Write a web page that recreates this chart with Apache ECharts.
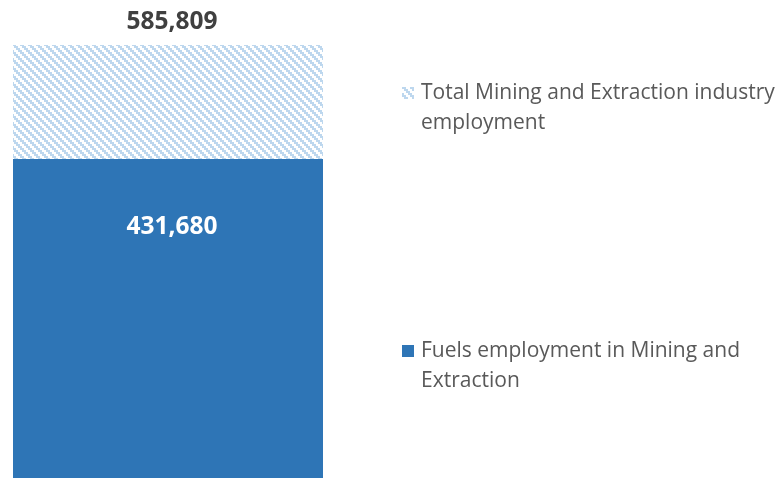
<!DOCTYPE html>
<html>
<head>
<meta charset="utf-8">
<script src="https://cdn.jsdelivr.net/npm/echarts@6/dist/echarts.min.js"></script>
<style>
html,body{margin:0;padding:0;background:#fff;}
#chart{width:777px;height:478px;}
</style>
</head>
<body>
<div id="chart"></div>
<script>
const categories = ['Mining and Extraction'];
const fuelsEmployment = [431680];
const totalEmployment = [585809];
const seriesNames = ['Fuels employment in Mining and\nExtraction', 'Total Mining and Extraction industry\nemployment'];

const remainder = totalEmployment.map((t, i) => t - fuelsEmployment[i]);

// hatch pattern (wide downward diagonal)
const pc = document.createElement('canvas');
pc.width = 8; pc.height = 8;
const pctx = pc.getContext('2d');
pctx.fillStyle = '#ffffff';
pctx.fillRect(0, 0, 8, 8);
pctx.fillStyle = '#BDD7EE';
for (let y = 0; y < 8; y++) {
  for (let x = 0; x < 8; x++) {
    const v = ((Math.floor(x / 2) - Math.floor(y / 2)) % 4 + 4) % 4;
    if (v < 2) pctx.fillRect(x, y, 1, 1);
  }
}
const hatch = { image: pc, repeat: 'repeat' };

const font = '"Open Sans"';
const chart = echarts.init(document.getElementById('chart'), null, { renderer: 'canvas' });
const legendText = {
  color: '#595959', fontFamily: font, fontSize: 21, lineHeight: 30, padding: [0, 0, 0, 2]
};
chart.setOption({
  animation: false,
  grid: { left: 13, width: 310, top: 45, bottom: 0, containLabel: false },
  xAxis: { type: 'category', data: categories, show: false },
  yAxis: { type: 'value', min: 0, max: totalEmployment[0], show: false, splitLine: { show: false } },
  legend: [
    {
      data: [{ name: seriesNames[1], icon: 'rect' }],
      left: 402, top: 48, padding: 0, itemWidth: 12, itemHeight: 12, itemGap: 0,
      textStyle: legendText, selectedMode: false,
      formatter: n => '\n' + n
    },
    {
      data: [{ name: seriesNames[0], icon: 'rect' }],
      left: 402, top: 306, padding: 0, itemWidth: 12, itemHeight: 12, itemGap: 0,
      textStyle: legendText, selectedMode: false,
      formatter: n => '\n' + n
    }
  ],
  series: [
    {
      name: seriesNames[0], type: 'bar', stack: 'a', barWidth: '100%',
      data: fuelsEmployment,
      itemStyle: { color: '#2E75B6' },
      label: {
        show: true, position: 'insideTop', distance: 56, offset: [4, 0],
        color: '#ffffff', fontFamily: font, fontWeight: 'bold', fontSize: 24.5,
        formatter: p => p.value.toLocaleString('en-US')
      }
    },
    {
      name: seriesNames[1], type: 'bar', stack: 'a', barWidth: '100%',
      data: remainder,
      itemStyle: { color: hatch },
      label: {
        show: true, position: 'top', distance: 10, offset: [4, 0],
        color: '#404040', fontFamily: font, fontWeight: 'bold', fontSize: 24.5,
        formatter: p => totalEmployment[p.dataIndex].toLocaleString('en-US')
      }
    }
  ]
});
</script>
</body>
</html>
